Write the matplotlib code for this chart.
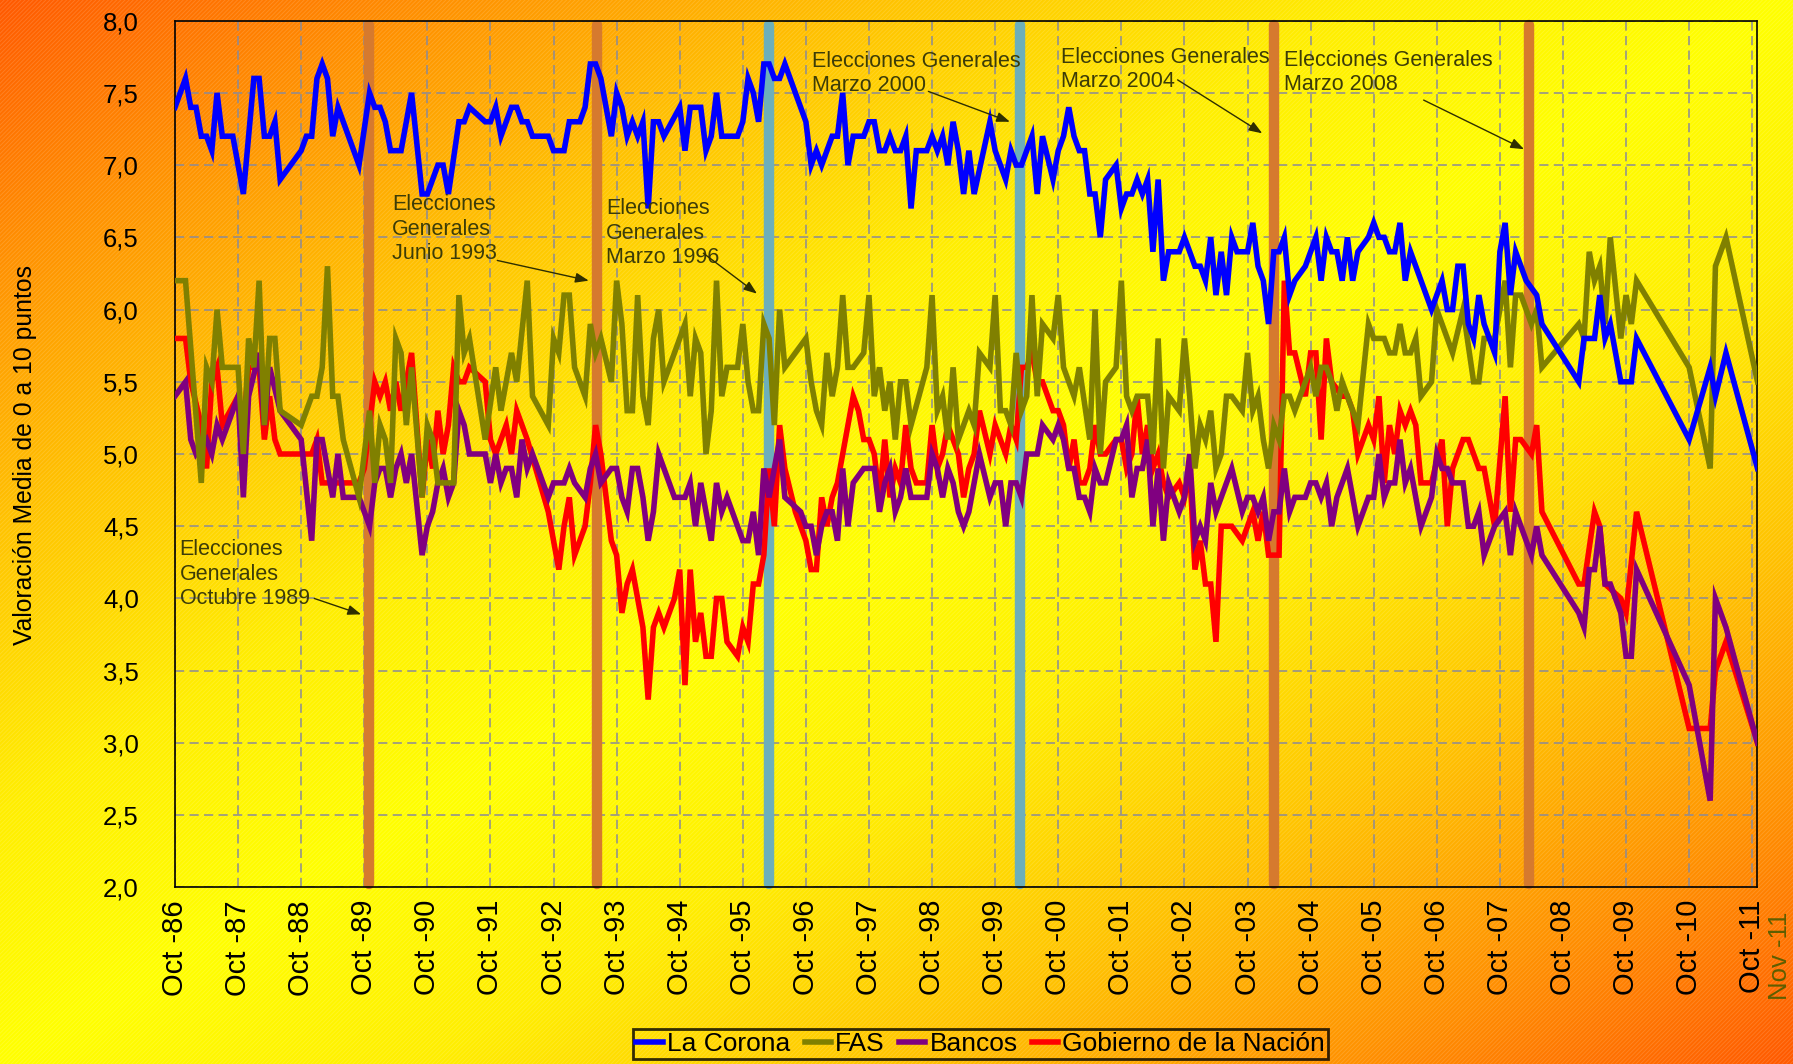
import numpy as np
import matplotlib
matplotlib.use('Agg')
import matplotlib.pyplot as plt
from matplotlib.colors import LinearSegmentedColormap
from matplotlib.patches import Rectangle
from matplotlib.lines import Line2D

plt.rcParams['font.family'] = ['Liberation Sans', 'DejaVu Sans']
plt.rcParams['hatch.linewidth'] = 0.7

# ---------------- data (x = months counted from October 1986) ----------------
tick_months = [0, 12, 24, 36, 48, 60, 72, 84, 96, 108, 120, 132, 144, 156, 168,
               180, 192, 204, 216, 228, 240, 252, 264, 276, 288, 300]
tick_labels = ['Oct -86', 'Oct -87', 'Oct -88', 'Oct -89', 'Oct -90', 'Oct -91',
               'Oct -92', 'Oct -93', 'Oct -94', 'Oct -95', 'Oct -96', 'Oct -97',
               'Oct -98', 'Oct -99', 'Oct -00', 'Oct -01', 'Oct -02', 'Oct -03',
               'Oct -04', 'Oct -05', 'Oct -06', 'Oct -07', 'Oct -08', 'Oct -09',
               'Oct -10', 'Oct -11']
last_label = 'Nov -11'

series_names = ['La Corona', 'FAS', 'Bancos', 'Gobierno de la Nación']
series_colors = ['#0000FF', '#808000', '#800080', '#FF0000']

corona = [(0,7.4),(2,7.6),(3,7.4),(4,7.4),(5,7.2),(6,7.2),(7,7.1),(8,7.5),(9,7.2),(10,7.2),(11,7.2),(13,6.8),
          (15,7.6),(16,7.6),(17,7.2),(18,7.2),(19,7.3),(20,6.9),(24,7.1),(25,7.2),(26,7.2),(27,7.6),(28,7.7),
          (29,7.6),(30,7.2),(31,7.4),(35,7.0),(37,7.5),(38,7.4),(39,7.4),(40,7.3),(41,7.1),(43,7.1),(45,7.5),
          (47,6.8),(48,6.8),(50,7.0),(51,7.0),(52,6.8),(54,7.3),(55,7.3),(56,7.4),(59,7.3),(60,7.3),(61,7.4),
          (62,7.2),(64,7.4),(65,7.4),(66,7.3),(67,7.3),(68,7.2),(71,7.2),(72,7.1),(74,7.1),(75,7.3),(77,7.3),
          (78,7.4),(79,7.7),(80,7.7),(81,7.6),(83,7.2),(84,7.5),(85,7.4),(86,7.2),(87,7.3),(88,7.2),(89,7.3),
          (90,6.7),(91,7.3),(92,7.3),(93,7.2),(96,7.4),(97,7.1),(98,7.4),(100,7.4),(101,7.1),(102,7.2),
          (103,7.5),(104,7.2),(107,7.2),(108,7.3),(109,7.6),(110,7.5),(111,7.3),(112,7.7),(113,7.7),(114,7.6),
          (115,7.6),(116,7.7),(120,7.3),(121,7.0),(122,7.1),(123,7.0),(125,7.2),(126,7.2),(127,7.5),(128,7.0),
          (129,7.2),(131,7.2),(132,7.3),(133,7.3),(134,7.1),(135,7.1),(136,7.2),(137,7.1),(138,7.1),(139,7.2),
          (140,6.7),(141,7.1),(143,7.1),(144,7.2),(145,7.1),(146,7.2),(147,7.0),(148,7.3),(149,7.1),(150,6.8),
          (151,7.1),(152,6.8),(155,7.3),(156,7.1),(158,6.9),(159,7.1),(160,7.0),(161,7.0),(163,7.2),(164,6.8),
          (165,7.2),(167,6.9),(168,7.1),(169,7.2),(170,7.4),(171,7.2),(172,7.1),(173,7.1),(174,6.8),(175,6.8),
          (176,6.5),(177,6.9),(179,7.0),(180,6.7),(181,6.8),(182,6.8),(183,6.9),(184,6.8),(185,6.9),(186,6.4),
          (187,6.9),(188,6.2),(189,6.4),(191,6.4),(192,6.5),(193,6.4),(194,6.3),(195,6.3),(196,6.2),(197,6.5),
          (198,6.1),(199,6.4),(200,6.1),(201,6.5),(202,6.4),(203,6.4),(204,6.4),(205,6.6),(206,6.3),(207,6.2),
          (208,5.9),(209,6.4),(210,6.4),(211,6.5),(212,6.1),(213,6.2),(215,6.3),(216,6.4),(217,6.5),(218,6.2),
          (219,6.5),(220,6.4),(221,6.4),(222,6.2),(223,6.5),(224,6.2),(225,6.4),(227,6.5),(228,6.6),(229,6.5),
          (230,6.5),(231,6.4),(232,6.4),(233,6.6),(234,6.2),(235,6.4),(239,6.0),(241,6.2),(242,6.0),(243,6.0),
          (244,6.3),(245,6.3),(246,5.9),(247,5.8),(248,6.1),(249,5.9),(251,5.7),(252,6.4),(253,6.6),(254,6.1),
          (255,6.4),(257,6.2),(259,6.1),(260,5.9),(267,5.5),(268,5.8),(270,5.8),(271,6.1),(272,5.8),(273,5.9),
          (275,5.5),(277,5.5),(278,5.8),(288,5.1),(292,5.6),(293,5.4),(295,5.7),(301,4.9)]

fas = [(0,6.2),(2,6.2),(5,4.8),(6,5.6),(7,5.5),(8,6.0),(9,5.6),(12,5.6),(13,5.0),(14,5.8),(15,5.6),(16,6.2),
       (17,5.2),(18,5.8),(19,5.8),(20,5.3),(24,5.2),(26,5.4),(27,5.4),(28,5.6),(29,6.3),(30,5.4),(31,5.4),
       (32,5.1),(35,4.7),(37,5.3),(38,4.8),(39,5.2),(40,5.1),(41,4.8),(42,5.8),(43,5.7),(44,5.2),(45,5.6),
       (47,4.7),(48,5.2),(49,5.1),(50,4.8),(51,4.8),(53,4.8),(54,6.1),(55,5.7),(56,5.8),(59,5.1),(61,5.6),
       (62,5.3),(64,5.7),(65,5.5),(67,6.2),(68,5.4),(71,5.2),(72,5.8),(73,5.7),(74,6.1),(75,6.1),(76,5.6),
       (78,5.4),(79,5.9),(80,5.7),(81,5.8),(83,5.5),(84,6.2),(85,5.9),(86,5.3),(87,5.3),(88,6.1),(89,5.4),
       (90,5.2),(91,5.8),(92,6.0),(93,5.5),(97,5.9),(98,5.4),(99,5.8),(100,5.7),(101,5.0),(102,5.3),(103,6.2),
       (104,5.4),(105,5.6),(107,5.6),(108,5.9),(109,5.5),(110,5.3),(111,5.3),(112,5.9),(113,5.8),(114,5.2),
       (115,6.0),(116,5.6),(120,5.8),(121,5.5),(122,5.3),(123,5.2),(124,5.7),(125,5.4),(126,5.6),(127,6.1),
       (128,5.6),(129,5.6),(131,5.7),(132,6.1),(133,5.4),(134,5.6),(135,5.3),(136,5.5),(137,5.1),(138,5.5),
       (139,5.5),(140,5.2),(143,5.6),(144,6.1),(145,5.3),(146,5.4),(147,5.1),(148,5.6),(149,5.1),(150,5.2),
       (151,5.3),(152,5.2),(153,5.7),(155,5.6),(156,6.1),(157,5.3),(158,5.3),(159,5.2),(160,5.7),(161,5.3),
       (162,5.4),(163,6.1),(164,5.4),(165,5.9),(167,5.8),(168,6.1),(169,5.6),(171,5.4),(172,5.6),(174,5.1),
       (175,6.0),(176,5.0),(177,5.5),(179,5.6),(180,6.2),(181,5.4),(182,5.3),(183,5.4),(185,5.4),(186,5.0),
       (187,5.8),(188,4.9),(189,5.4),(191,5.3),(192,5.8),(193,5.4),(194,4.9),(195,5.2),(196,5.1),(197,5.3),
       (198,4.9),(199,5.0),(200,5.4),(201,5.4),(203,5.3),(204,5.7),(205,5.3),(206,5.4),(207,5.1),(208,4.9),
       (209,5.2),(210,5.1),(211,5.4),(212,5.4),(213,5.3),(216,5.6),(217,5.4),(218,5.6),(219,5.6),(220,5.5),
       (221,5.3),(222,5.5),(223,5.4),(224,5.3),(225,5.2),(227,5.9),(228,5.8),(230,5.8),(231,5.7),(232,5.7),
       (233,5.9),(234,5.7),(235,5.7),(236,5.8),(237,5.4),(239,5.5),(240,6.0),(243,5.7),(245,6.0),(247,5.5),
       (248,5.5),(249,5.8),(251,5.8),(253,6.2),(254,5.6),(255,6.1),(256,6.1),(258,5.9),(259,6.0),(260,5.6),
       (267,5.9),(268,5.8),(269,6.4),(270,6.2),(271,6.3),(272,5.9),(273,6.5),(275,5.8),(276,6.1),(277,5.9),
       (278,6.2),(288,5.6),(292,4.9),(293,6.3),(295,6.5),(301,5.5)]

bancos = [(0,5.4),(2,5.5),(3,5.1),(4,5.0),(6,5.1),(7,5.0),(8,5.2),(9,5.1),(12,5.4),(13,4.7),(14,5.4),(16,5.7),
          (17,5.2),(18,5.6),(20,5.3),(24,5.1),(26,4.4),(27,5.1),(28,5.1),(29,4.9),(30,4.7),(31,5.0),(32,4.7),
          (35,4.7),(37,4.5),(38,4.8),(39,4.9),(40,4.9),(41,4.7),(42,4.9),(43,5.0),(44,4.8),(45,5.0),(47,4.3),
          (48,4.5),(49,4.6),(50,4.8),(51,4.9),(52,4.7),(53,4.8),(54,5.3),(55,5.2),(56,5.0),(59,5.0),(60,4.8),
          (61,5.0),(62,4.8),(63,4.9),(64,4.9),(65,4.7),(66,5.1),(67,4.9),(68,5.0),(71,4.7),(72,4.8),(74,4.8),
          (75,4.9),(76,4.8),(78,4.7),(79,4.9),(80,5.0),(81,4.8),(83,4.9),(84,4.9),(85,4.7),(86,4.6),(87,4.9),
          (88,4.9),(89,4.7),(90,4.4),(91,4.6),(92,5.0),(93,4.9),(95,4.7),(97,4.7),(98,4.8),(99,4.5),(100,4.8),
          (101,4.6),(102,4.4),(103,4.8),(104,4.6),(105,4.7),(106,4.6),(108,4.4),(109,4.4),(110,4.6),(111,4.3),
          (112,4.9),(113,4.7),(114,4.9),(115,5.1),(116,4.7),(119,4.6),(120,4.5),(121,4.5),(122,4.3),(123,4.5),
          (124,4.6),(125,4.6),(126,4.4),(127,4.9),(128,4.5),(129,4.8),(131,4.9),(133,4.9),(134,4.6),(135,4.8),
          (136,4.9),(137,4.6),(138,4.7),(139,4.9),(140,4.7),(143,4.7),(144,5.0),(145,4.9),(146,4.7),(147,4.9),
          (148,4.8),(149,4.6),(150,4.5),(151,4.6),(153,5.0),(155,4.7),(156,4.8),(157,4.8),(158,4.5),(159,4.8),
          (160,4.8),(161,4.7),(162,5.0),(164,5.0),(165,5.2),(167,5.1),(168,5.2),(169,5.1),(170,4.9),(171,4.9),
          (172,4.7),(173,4.7),(174,4.6),(175,4.9),(176,4.8),(177,4.8),(179,5.1),(180,5.1),(181,5.2),(182,4.7),
          (183,4.9),(184,4.9),(185,5.1),(186,4.5),(187,4.9),(188,4.4),(189,4.8),(191,4.6),(192,4.7),(193,5.0),
          (194,4.4),(195,4.5),(196,4.4),(197,4.8),(198,4.6),(201,4.9),(203,4.6),(204,4.7),(205,4.7),(206,4.6),
          (207,4.7),(208,4.4),(209,4.6),(210,4.6),(211,4.9),(212,4.6),(213,4.7),(215,4.7),(216,4.8),(217,4.8),
          (218,4.7),(219,4.8),(220,4.5),(221,4.7),(223,4.9),(224,4.7),(225,4.5),(227,4.7),(228,4.7),(229,5.0),
          (230,4.7),(231,4.8),(232,4.8),(233,5.1),(234,4.8),(235,4.9),(237,4.5),(239,4.7),(240,5.0),(241,4.9),
          (242,4.9),(243,4.8),(245,4.8),(246,4.5),(247,4.5),(248,4.6),(249,4.3),(251,4.5),(253,4.6),(254,4.3),
          (255,4.6),(258,4.3),(259,4.5),(260,4.3),(267,3.9),(268,3.8),(269,4.2),(270,4.2),(271,4.5),(272,4.1),
          (273,4.1),(275,3.9),(276,3.6),(277,3.6),(278,4.2),(288,3.4),(292,2.6),(293,4.0),(295,3.8),(301,3.0)]

gobierno = [(0,5.8),(2,5.8),(3,5.5),(5,5.2),(6,4.9),(7,5.5),(8,5.6),(9,5.2),(12,5.4),(13,5.2),(14,5.6),(15,5.6),
            (16,5.6),(17,5.1),(18,5.4),(19,5.1),(20,5.0),(24,5.0),(26,5.0),(27,5.1),(28,4.8),(35,4.8),(36,4.9),
            (38,5.5),(39,5.4),(40,5.5),(41,5.3),(42,5.5),(43,5.3),(45,5.7),(47,4.7),(48,5.1),(49,4.9),(50,5.3),
            (51,5.0),(52,5.2),(53,5.6),(54,5.5),(55,5.5),(56,5.6),(59,5.5),(60,5.1),(61,5.0),(63,5.2),(64,5.0),
            (65,5.3),(67,5.1),(71,4.6),(73,4.2),(74,4.5),(75,4.7),(76,4.3),(78,4.5),(79,4.8),(80,5.2),(81,5.0),
            (83,4.4),(84,4.3),(85,3.9),(86,4.1),(87,4.2),(89,3.8),(90,3.3),(91,3.8),(92,3.9),(93,3.8),(95,4.0),
            (96,4.2),(97,3.4),(98,4.2),(99,3.7),(100,3.9),(101,3.6),(102,3.6),(103,4.0),(104,4.0),(105,3.7),
            (107,3.6),(108,3.8),(109,3.7),(110,4.1),(111,4.1),(112,4.3),(113,4.9),(114,4.5),(115,5.2),(116,4.9),
            (118,4.6),(120,4.4),(121,4.2),(122,4.2),(123,4.7),(124,4.5),(125,4.7),(126,4.8),(128,5.2),(129,5.4),
            (130,5.3),(131,5.1),(132,5.1),(133,5.0),(134,4.7),(135,5.1),(136,4.7),(137,4.9),(138,4.8),(139,5.2),
            (140,4.9),(141,4.8),(143,4.8),(144,5.2),(145,4.9),(146,5.0),(147,5.2),(148,5.1),(149,5.0),(150,4.7),
            (151,4.9),(152,5.0),(153,5.3),(155,5.0),(156,5.2),(158,5.0),(159,5.2),(160,5.1),(161,5.6),(162,5.6),
            (163,5.7),(164,5.5),(165,5.5),(167,5.3),(168,5.3),(169,5.2),(170,4.9),(171,5.1),(172,4.8),(173,4.8),
            (174,4.9),(175,5.2),(176,5.0),(177,5.0),(179,5.1),(180,5.1),(181,4.9),(182,5.0),(183,5.4),(184,5.0),
            (185,5.2),(186,4.9),(187,5.0),(188,4.8),(189,4.7),(191,4.8),(192,4.7),(193,4.9),(194,4.2),(195,4.4),
            (196,4.1),(197,4.1),(198,3.7),(199,4.5),(201,4.5),(203,4.4),(205,4.6),(206,4.4),(207,4.6),(208,4.3),
            (210,4.3),(211,6.2),(212,5.7),(213,5.7),(215,5.4),(216,5.7),(217,5.7),(218,5.1),(219,5.8),(220,5.5),
            (222,5.4),(223,5.4),(224,5.3),(225,5.0),(227,5.2),(228,5.1),(229,5.4),(230,4.8),(231,5.2),(232,5.0),
            (233,5.3),(234,5.2),(235,5.3),(236,5.2),(237,4.8),(239,4.8),(241,5.1),(242,4.5),(243,4.9),(245,5.1),
            (246,5.1),(248,4.9),(249,4.9),(251,4.5),(253,5.4),(254,4.6),(255,5.1),(256,5.1),(258,5.0),(259,5.2),
            (260,4.6),(267,4.1),(268,4.1),(270,4.6),(271,4.5),(272,4.1),(275,4.0),(276,3.9),(278,4.6),(288,3.1),
            (292,3.1),(293,3.5),(295,3.7),(301,3.0)]

# general elections (months from Oct 1986)
election_months = [36.9, 80.2, 113.0, 160.8, 209.0, 257.5]
election_colors = ['#D67A2E', '#D67A2E', '#6DAFBA', '#6DAFBA', '#D67A2E', '#D67A2E']
election_notes = ['Elecciones\nGenerales\nOctubre 1989', 'Elecciones\nGenerales\nJunio 1993',
                  'Elecciones\nGenerales\nMarzo 1996', 'Elecciones Generales\nMarzo 2000',
                  'Elecciones Generales\nMarzo 2004', 'Elecciones Generales\nMarzo 2008']
# note placement (text anchor, arrow tail, arrow head) in (month, value)
note_text_pos = [(0.9, 4.41), (41.3, 6.80), (82.0, 6.77), (121.1, 7.79), (168.5, 7.82), (211.0, 7.80)]
note_tail = [(26.5, 4.00), (61.3, 6.34), (100.5, 6.39), (143.3, 7.51), (190.7, 7.59), (237.5, 7.45)]
note_head = [(35.4, 3.89), (78.7, 6.20), (110.7, 6.11), (158.8, 7.30), (206.8, 7.22), (256.6, 7.11)]

# ---------------- figure ----------------
W, H = 1793, 1064
fig = plt.figure(figsize=(W / 100, H / 100), dpi=100)

# gradient background
bg = fig.add_axes([0, 0, 1, 1], zorder=-10)
yy, xx = np.mgrid[0:1:500j, 0:1:800j]
tt = (xx + yy) / 2.0
cmap = LinearSegmentedColormap.from_list('bg', [
    (0.0, '#FF5A00'), (0.12, '#FF9000'), (0.25, '#FFC400'), (0.38, '#FFEE00'),
    (0.5, '#FFFF00'), (0.62, '#FFEE00'), (0.75, '#FFC400'), (0.88, '#FF9000'), (1.0, '#FF5A00')])
bg.imshow(tt, cmap=cmap, vmin=0, vmax=1, extent=[0, 1, 0, 1], origin='upper', aspect='auto')
bg.add_patch(Rectangle((0, 0), 1, 1, transform=bg.transAxes, facecolor='none',
                       edgecolor=(1, 1, 1, 0.14), hatch='////////', lw=0))
bg.set_xlim(0, 1)
bg.set_ylim(0, 1)
bg.axis('off')

ax = fig.add_axes([0.0976, 0.166, 0.8826, 0.8146])
ax.set_facecolor('none')
ax.set_xlim(0, 301)
ax.set_ylim(2, 8)

# election bars
for m, c in zip(election_months, election_colors):
    ax.plot([m, m], [2.02, 7.97], color=c, lw=7.5, solid_capstyle='round', zorder=2, clip_on=False)

# series
for data, c, z in zip([corona, fas, bancos, gobierno], series_colors, [6, 5, 4, 3]):
    xs = [p[0] for p in data]
    ys = [p[1] for p in data]
    ax.plot(xs, ys, color=c, lw=4, zorder=z, solid_joinstyle='miter')

# notes
for txt, tp, a, b in zip(election_notes, note_text_pos, note_tail, note_head):
    ax.text(tp[0], tp[1], txt, ha='left', va='top', fontsize=15.5, color='#3c3c08',
            linespacing=1.22, zorder=8)
    ax.annotate('', xy=b, xytext=a,
                arrowprops=dict(arrowstyle='-|>,head_length=0.8,head_width=0.3',
                                color='#2e2e00', lw=1.0, shrinkA=0, shrinkB=0), zorder=8)

# axes styling
yt = np.arange(2.0, 8.01, 0.5)
ax.set_yticks(yt)
ax.set_yticklabels([('%.1f' % v).replace('.', ',') for v in yt])
ax.set_xticks(tick_months)
ax.set_xticklabels(tick_labels, rotation=90)
ax.tick_params(axis='both', length=0)
ax.tick_params(axis='y', pad=26, labelsize=18.5)
ax.tick_params(axis='x', pad=9, labelsize=21)
ax.grid(True, ls=(0, (6, 3.5)), color='#8a8a98', lw=1.1, zorder=0)
ax.set_axisbelow(True)
for sp in ax.spines.values():
    sp.set_color('black')
    sp.set_linewidth(1.2)

fig.text(1780 / W, 1 - 912 / H, last_label, rotation=90, ha='center', va='top',
         fontsize=18.5, color='#5e5e00')
fig.text(25 / W, 0.5725, 'Valoración Media de 0 a 10 puntos', rotation=90,
         ha='center', va='center', fontsize=17.8)

handles = [Line2D([], [], color=c, lw=4) for c in series_colors]
leg = fig.legend(handles, series_names, loc='center', bbox_to_anchor=(0.547, 0.0188), ncol=4,
                 frameon=True, fontsize=19, handlelength=1.0, handletextpad=0.15,
                 columnspacing=0.55, borderpad=0.12, borderaxespad=0, fancybox=False,
                 edgecolor='black', facecolor='none')
leg.get_frame().set_linewidth(2)

fig.savefig('out.png', dpi=100)
